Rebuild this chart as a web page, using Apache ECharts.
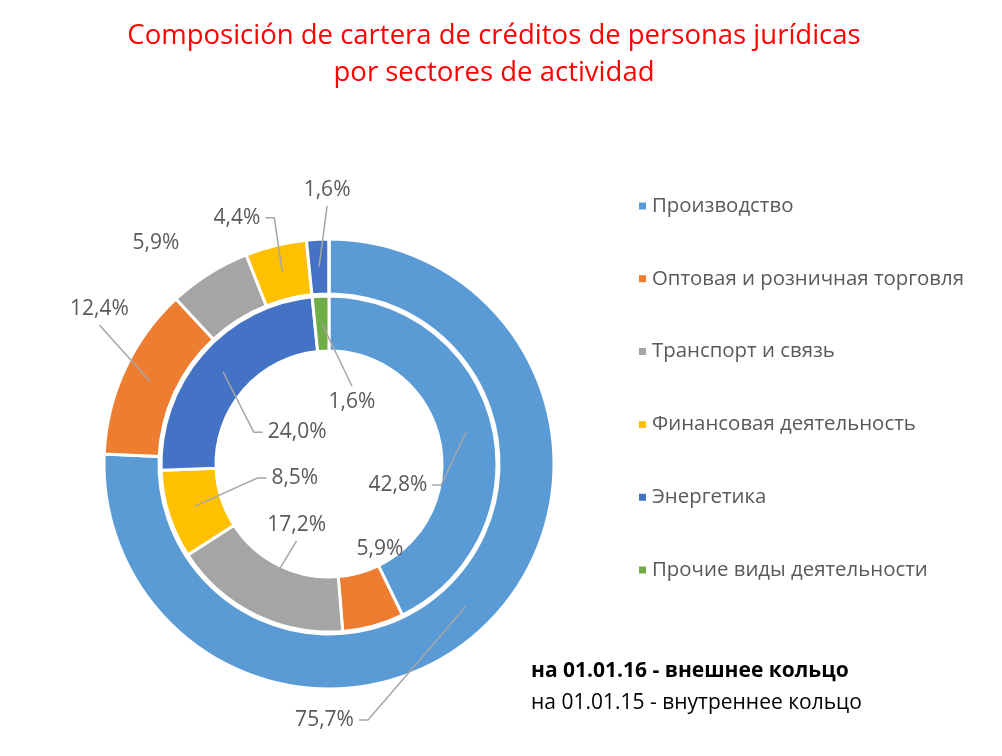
<!DOCTYPE html>
<html>
<head>
<meta charset="utf-8">
<script src="https://cdn.jsdelivr.net/npm/echarts@6/dist/echarts.min.js"></script>
<style>
  html, body { margin: 0; padding: 0; background: #fff; }
  #chart { width: 1002px; height: 756px; }
</style>
</head>
<body>
<div id="chart"></div>
<script>
// Sectors and values (%)
const sectors = [
  'Производство',
  'Оптовая и розничная торговля',
  'Транспорт и связь',
  'Финансовая деятельность',
  'Энергетика',
  'Прочие виды деятельности'
];
const outer2016 = [75.7, 12.4, 5.9, 4.4, 1.6, 0];   // на 01.01.16
const inner2015 = [42.8, 5.9, 17.2, 8.5, 24.0, 1.6]; // на 01.01.15

const colors = ['#5B9BD5', '#ED7D31', '#A5A5A5', '#FFC000', '#4472C4', '#70AD47'];

// label placement: [angle clockwise from top (deg), distance from centre (px), leader style]
const outerLabelSpots = [[181, 256, 'side'], [304, 277, 'end'], [322, 281, 'none'], [339.5, 263, 'side'], [359.6, 274, 'end'], null];
const innerLabelSpots = [[107, 72, 'side'], [149, 99, 'none'], [208, 69, 'end'], [247.6, 37, 'side'], [315, 45, 'side'], [20.4, 66, 'end']];

const center = [329, 464];
const outerRadius = [170, 225];
const innerRadius = [113, 168];
const font = 'Open Sans';
const labelSize = 21;
const labelColor = '#595959';

const fmt = v => v.toFixed(1).replace('.', ',') + '%';

const measureCtx = document.createElement('canvas').getContext('2d');
function textWidth(str) {
  measureCtx.font = labelSize + 'px "' + font + '"';
  return measureCtx.measureText(str).width;
}

function midAngles(values) {
  const total = values.reduce((a, b) => a + b, 0);
  let acc = 0;
  return values.map(v => {
    const mid = (acc + v / 2) / total * 360;
    acc += v;
    return mid;
  });
}

function polar(angle, r) {
  const a = angle * Math.PI / 180;
  return [center[0] + r * Math.sin(a), center[1] - r * Math.cos(a)];
}

// label centre and leader line for every slice of a ring
function labelGeometry(values, spots, radius) {
  const mids = midAngles(values);
  const ringMid = (radius[0] + radius[1]) / 2;
  return values.map((v, i) => {
    const spot = spots[i];
    if (!spot) return null;
    const [x, y] = polar(spot[0], spot[1]);
    const w = textWidth(fmt(v));
    const h = labelSize * 0.75;
    const s = polar(mids[i], ringMid);
    let pts = null;
    if (spot[2] === 'side') {
      const right = s[0] > x;
      const edge = right ? x + w / 2 + 5 : x - w / 2 - 5;
      const elbow = right ? edge + 9 : edge - 9;
      pts = [s, [elbow, y], [edge, y]];
    } else if (spot[2] === 'end') {
      const below = s[1] > y;
      pts = [s, [x, below ? y + h / 2 + 8 : y - h / 2 - 8]];
    }
    return { x: x, y: y, pts: pts };
  });
}

const outerGeom = labelGeometry(outer2016, outerLabelSpots, outerRadius);
const innerGeom = labelGeometry(inner2015, innerLabelSpots, innerRadius);

function ring(name, values, geom, radius) {
  return {
    name: name,
    type: 'pie',
    center: center,
    radius: radius,
    startAngle: 90,
    clockwise: true,
    avoidLabelOverlap: false,
    silent: true,
    itemStyle: { borderColor: '#fff', borderWidth: 3 },
    label: {
      show: true,
      position: 'outside',
      formatter: p => fmt(p.value),
      fontFamily: font,
      fontSize: labelSize,
      color: labelColor
    },
    labelLine: { show: false },
    labelLayout: p => {
      const g = geom[p.dataIndex];
      return g ? { x: g.x, y: g.y, align: 'center', verticalAlign: 'middle' } : {};
    },
    data: sectors.map((n, i) => ({ name: n, value: values[i], label: { show: !!geom[i] } }))
  };
}

const leaders = outerGeom.concat(innerGeom)
  .filter(g => g && g.pts)
  .map(g => ({
    type: 'polyline',
    z: 100,
    silent: true,
    shape: { points: g.pts },
    style: { stroke: '#A6A6A6', lineWidth: 1.5, fill: null }
  }));

const chart = echarts.init(document.getElementById('chart'));

chart.setOption({
  color: colors,
  animation: false,
  title: {
    text: 'Composición de cartera de créditos de personas jurídicas\npor sectores de actividad',
    left: 489,
    top: 13,
    textAlign: 'center',
    textStyle: {
      color: '#FF0000',
      fontFamily: font,
      fontWeight: 'normal',
      fontSize: 27.5,
      lineHeight: 37
    }
  },
  legend: {
    orient: 'vertical',
    left: 632,
    top: 191,
    icon: 'rect',
    itemWidth: 9,
    itemHeight: 9,
    itemGap: 52.8,
    selectedMode: false,
    data: sectors,
    textStyle: { fontFamily: font, fontSize: 20.4, color: labelColor, lineHeight: 20 }
  },
  graphic: leaders.concat([
    {
      type: 'text',
      left: 531,
      top: 661,
      style: { text: 'на 01.01.16 - внешнее кольцо', fontFamily: font, fontSize: 21, fontWeight: 'bold', fill: '#000' }
    },
    {
      type: 'text',
      left: 531,
      top: 693,
      style: { text: 'на 01.01.15 - внутреннее кольцо', fontFamily: font, fontSize: 21, fill: '#000' }
    }
  ]),
  series: [
    ring('на 01.01.16', outer2016, outerGeom, outerRadius),
    ring('на 01.01.15', inner2015, innerGeom, innerRadius)
  ]
});

window.addEventListener('resize', () => chart.resize());
</script>
</body>
</html>
